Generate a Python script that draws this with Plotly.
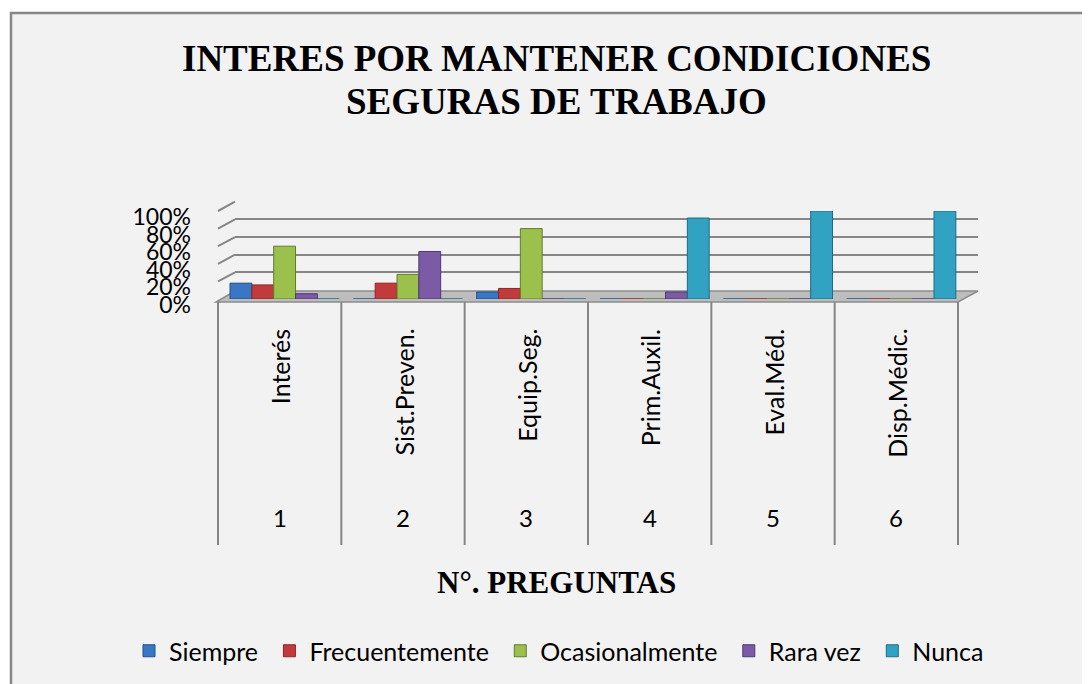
import plotly.graph_objects as go

# ---------------- data ----------------
numeros = ["1", "2", "3", "4", "5", "6"]
preguntas = ["Interés", "Sist.Preven.", "Equip.Seg.", "Prim.Auxil.", "Eval.Méd.", "Disp.Médic."]
series_names = ["Siempre", "Frecuentemente", "Ocasionalmente", "Rara vez", "Nunca"]
siempre = [0.18, 0.00, 0.08, 0.00, 0.00, 0.00]
frecuentemente = [0.16, 0.18, 0.12, 0.00, 0.00, 0.00]
ocasionalmente = [0.60, 0.28, 0.80, 0.00, 0.00, 0.00]
rara_vez = [0.06, 0.54, 0.00, 0.08, 0.00, 0.00]
nunca = [0.00, 0.00, 0.00, 0.92, 1.00, 1.00]
y_ticks = [0, 0.2, 0.4, 0.6, 0.8, 1.0]

colors = ["#3a76c4", "#c23b3c", "#9bc04c", "#7c5aa6", "#31a2c2"]
edge_colors = ["#23508a", "#8c2628", "#607d2e", "#4d3970", "#1f6c82"]

# page body has an 8px margin; work in window pixels and convert
OFF = 8
W, H = 1082, 676
def fx(p):
    return (p - OFF) / W
def fy(p):
    return 1 - (p - OFF) / H

SANS = "Lato, Carlito, Calibri, sans-serif"
SERIF = "Liberation Serif, Times New Roman, serif"

fig = go.Figure()

# dummy trace for the back-wall grid subplot
fig.add_trace(go.Scatter(x=[0, 1], y=[0, 1], mode="lines", line=dict(width=0),
                         opacity=0, showlegend=False, hoverinfo="skip",
                         xaxis="x", yaxis="y"))

all_vals = [siempre, frecuentemente, ocasionalmente, rara_vez, nunca]
for name, vals, c, ec in zip(series_names, all_vals, colors, edge_colors):
    fig.add_trace(go.Bar(x=numeros, y=vals, name=name + "\u00a0", xaxis="x2", yaxis="y2",
                         marker=dict(color=c, line=dict(color=ec, width=1))))

shapes = []
# chart area background with border
shapes.append(dict(type="rect", xref="paper", yref="paper",
                   x0=fx(11), x1=fx(1110), y0=fy(710), y1=fy(13),
                   fillcolor="#f2f2f2", line=dict(color="#868686", width=2.5),
                   layer="below"))
# floor
shapes.append(dict(type="path", xref="paper", yref="paper",
                   path=f"M{fx(216)},{fy(302)} L{fx(958)},{fy(302)} L{fx(978)},{fy(291)} L{fx(235)},{fy(291)} Z",
                   fillcolor="#bdbdbd", line=dict(color="#8c8c8c", width=1.5),
                   layer="below"))
# left wall depth lines for grid
for v in y_ticks[1:]:
    shapes.append(dict(type="line", xref="paper", yref="paper",
                       x0=fx(218), y0=fy(299 - 88 * v), x1=fx(235), y1=fy(290 - 88.3 * v),
                       line=dict(color="#868686", width=2), layer="below"))
# category dividers
n = len(numeros)
cw = (958 - 218) / n
for i in range(n + 1):
    xp = 218 + cw * i
    shapes.append(dict(type="line", xref="paper", yref="paper",
                       x0=fx(xp), x1=fx(xp), y0=fy(302), y1=fy(545),
                       line=dict(color="#868686", width=2)))

annotations = []
annotations.append(dict(text="<b>INTERES POR MANTENER CONDICIONES</b>", xref="paper", yref="paper",
                        x=fx(556), y=fy(58), xanchor="center", yanchor="middle", showarrow=False,
                        font=dict(family=SERIF, size=37, color="black")))
annotations.append(dict(text="<b>SEGURAS DE TRABAJO</b>", xref="paper", yref="paper",
                        x=fx(556), y=fy(102), xanchor="center", yanchor="middle", showarrow=False,
                        font=dict(family=SERIF, size=37, color="black")))
annotations.append(dict(text="<b>N°. PREGUNTAS</b>", xref="paper", yref="paper",
                        x=fx(556), y=fy(582), xanchor="center", yanchor="middle", showarrow=False,
                        font=dict(family=SERIF, size=31, color="black")))
for i, (num, lab) in enumerate(zip(numeros, preguntas)):
    xc = 218 + cw * (i + 0.5)
    annotations.append(dict(text=lab, xref="paper", yref="paper", x=fx(xc), y=fy(327),
                            xanchor="center", yanchor="top", textangle=-90, showarrow=False,
                            font=dict(family=SANS, size=25, color="black")))
    annotations.append(dict(text=num, xref="paper", yref="paper", x=fx(xc), y=fy(517),
                            xanchor="center", yanchor="middle", showarrow=False,
                            font=dict(family=SANS, size=24, color="black")))

fig.update_layout(
    width=W, height=H,
    margin=dict(l=0, r=0, t=0, b=0, autoexpand=False),
    paper_bgcolor="white",
    plot_bgcolor="rgba(0,0,0,0)",
    barmode="group", bargap=0.115, bargroupgap=0,
    showlegend=True,
    legend=dict(orientation="h", x=fx(562), y=fy(651), xanchor="center", yanchor="middle",
                font=dict(family=SANS, size=25, color="black"), bgcolor="rgba(0,0,0,0)",
                traceorder="normal"),
    xaxis=dict(domain=[fx(235), fx(978)], range=[0, 1], visible=False, fixedrange=True),
    yaxis=dict(domain=[fy(290), fy(201.7)], range=[0, 1], showgrid=True, tickvals=y_ticks,
               gridcolor="#868686", gridwidth=2, zeroline=False, showline=False,
               showticklabels=False, ticks="", fixedrange=True, automargin=False),
    xaxis2=dict(domain=[fx(218), fx(958)], anchor="y2", type="category",
                range=[-0.54, 5.46], showticklabels=False, showgrid=False, zeroline=False,
                showline=False, ticks="", fixedrange=True, automargin=False),
    yaxis2=dict(domain=[fy(299), fy(211)], anchor="x2", range=[0, 1], tickvals=y_ticks,
                tickformat=".0%", showgrid=False, zeroline=False, showline=False, ticks="",
                ticklabelstandoff=26, ticklabelshift=6,
                tickfont=dict(family=SANS, size=23, color="black"), fixedrange=True,
                automargin=False),
    shapes=shapes,
    annotations=annotations,
)

fig.write_html("out.html")
